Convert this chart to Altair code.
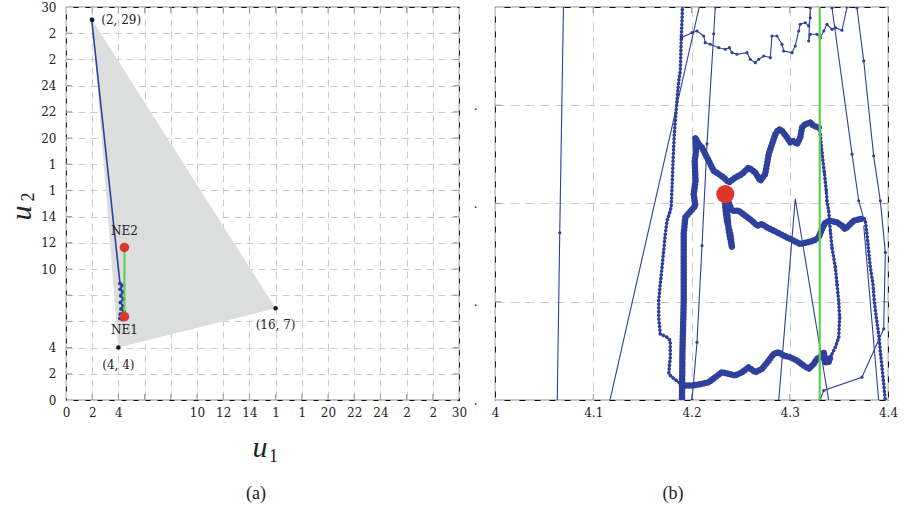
import altair as alt
import pandas as pd

BLUE = "#2e409c"
RED = "#e0362a"
GREEN = "#5ccf4c"
FILL = "#dcdddd"
GRID = "#cbcbcb"
TICK = "#9a9a9a"
INK = "#222222"
FONT = "DejaVu Serif"
MATH = "Liberation Serif"

# ---------------- panel (a) ----------------
tri_u1 = [2, 16, 4]
tri_u2 = [29, 7, 4]
tri_text = ["(2, 29)", "(16, 7)", "(4, 4)"]

traj_a_u1 = [1.96, 4.12, 4.28, 4.14, 4.33, 4.18, 4.38, 4.16, 4.36, 4.20, 4.42, 4.15, 4.32, 4.12, 4.30]
traj_a_u2 = [29.06, 8.90, 8.75, 8.45, 8.25, 7.95, 7.70, 7.45, 7.20, 6.95, 6.75, 6.55, 6.40, 6.22, 6.15]

ne_u1 = [4.46, 4.46]
ne_u2 = [6.36, 11.65]
ne_text = ["NE1", "NE2"]

ticks_a = list(range(0, 31, 2))

# ---------------- panel (b) ----------------
ticks_b_u1 = [4.0, 4.1, 4.2, 4.3, 4.4]
ticks_b_u2 = [6.0, 6.2, 6.4, 6.6, 6.8]

# thin straight segments (no dots)
t2_u1 = [4.1057, 4.2192]
t2_u2 = [5.90, 6.90]
v1_u1 = [4.2847, 4.3056, 4.3479]
v1_u2 = [5.90, 6.4096, 5.90]
rr2_u1 = [4.3753, 4.3905, 4.3923]
rr2_u2 = [6.355, 6.000, 5.958]

# thin segments with dots
t1_u1 = [4.0705, 4.0659, 4.0626]
t1_u2 = [6.90, 6.3405, 5.90]
t3_u1 = [4.2346, 4.2242, 4.2226, 4.2158, 4.2107, 4.2056, 4.2005, 4.1962]
t3_u2 = [6.90, 6.800, 6.7456, 6.5214, 6.3141, 6.1175, 6.000, 5.90]
r1_u1 = [4.3360, 4.3430, 4.3634, 4.3702, 4.3753]
r1_u2 = [6.90, 6.7985, 6.5005, 6.4056, 6.3684]
r2_u1 = [4.3620, 4.3684, 4.3753, 4.3854, 4.3922, 4.3973, 4.3956, 4.3735, 4.3346, 4.3308, 4.3288]
r2_u2 = [6.90, 6.7985, 6.6902, 6.4970, 6.4056, 6.3005, 6.1447, 6.0464, 6.0193, 6.000, 5.9787]

# upper dotted path
up_u1 = [4.1896, 4.2005, 4.2056, 4.2124, 4.2140, 4.2191, 4.2277, 4.2344, 4.2385, 4.2412,
         4.2463, 4.2565, 4.2598, 4.2649, 4.2684, 4.2735, 4.2802, 4.2819, 4.2870, 4.2921,
         4.2938, 4.3023, 4.3056, 4.3091, 4.3107, 4.3158, 4.3193, 4.3209, 4.3209, 4.3193,
         4.3209, 4.3277, 4.3311, 4.3346, 4.3379, 4.3430, 4.3464, 4.3532, 4.3583, 4.3620]
up_u2 = [6.7376, 6.7477, 6.7512, 6.7410, 6.7274, 6.7241, 6.7172, 6.7140, 6.7172, 6.7071,
         6.7038, 6.7071, 6.6936, 6.6867, 6.6936, 6.7003, 6.6969, 6.7410, 6.7410, 6.7241,
         6.7105, 6.7071, 6.7207, 6.7512, 6.7648, 6.7680, 6.7613, 6.7782, 6.7985, 6.7308,
         6.7445, 6.7445, 6.7376, 6.7512, 6.7648, 6.7546, 6.7579, 6.7526, 6.8000, 6.90]

# dense dotted paths
ld_u1 = [4.1915, 4.1908, 4.1903, 4.1896, 4.1886, 4.1870, 4.1852, 4.1835, 4.1825, 4.1812,
         4.1802, 4.1794, 4.1784, 4.1751, 4.1733, 4.1717, 4.1700, 4.1682, 4.1666, 4.1666,
         4.1682, 4.1717, 4.1751, 4.1784, 4.1784, 4.1768, 4.1802, 4.1870, 4.1903, 4.2005]
ld_u2 = [6.90, 6.800, 6.7715, 6.7376, 6.6698, 6.6495, 6.6089, 6.5682, 6.5412, 6.4869,
         6.4326, 6.3954, 6.3852, 6.3649, 6.3379, 6.3039, 6.2700, 6.2362, 6.2023, 6.1683,
         6.1346, 6.1311, 6.1277, 6.1210, 6.0870, 6.0533, 6.0464, 6.0362, 6.0295, 6.0295]
rd_u1 = [4.3413, 4.3464, 4.3498, 4.3508, 4.3498, 4.3481, 4.3464, 4.3430, 4.3413, 4.3396,
         4.3379, 4.3372, 4.3352, 4.3328, 4.3311, 4.3295]
rd_u2 = [6.0870, 6.1073, 6.1277, 6.1683, 6.2023, 6.2362, 6.2700, 6.3106, 6.3446, 6.3852,
         6.4056, 6.4259, 6.4631, 6.5038, 6.5412, 6.5546]
rr_u1 = [4.3753, 4.3769, 4.3786, 4.3803, 4.3820, 4.3847, 4.3860, 4.3881, 4.3905, 4.3921,
         4.3939, 4.3956, 4.3972, 4.3990]
rr_u2 = [6.3684, 6.3649, 6.3379, 6.3039, 6.2700, 6.2362, 6.2023, 6.1683, 6.1346, 6.1006,
         6.0667, 6.0329, 5.9990, 5.9580]

# thick noisy paths
bw_u1 = [4.1903, 4.2005, 4.2107, 4.2175, 4.2242, 4.2310, 4.2379, 4.2446, 4.2514, 4.2582,
         4.2649, 4.2718, 4.2786, 4.2837, 4.2888, 4.2938, 4.3006, 4.3074, 4.3142, 4.3193,
         4.3244, 4.3277, 4.3311, 4.3346, 4.3362, 4.3396, 4.3413]
bw_u2 = [6.0295, 6.0295, 6.0329, 6.0362, 6.0464, 6.0565, 6.0533, 6.0498, 6.0565, 6.0667,
         6.0565, 6.0634, 6.0803, 6.0939, 6.0972, 6.0905, 6.0870, 6.0803, 6.0701, 6.0634,
         6.0736, 6.0838, 6.0870, 6.0972, 6.0768, 6.0768, 6.0870]
uw_u1 = [4.3295, 4.3244, 4.3209, 4.3158, 4.3125, 4.3107, 4.3074, 4.3040, 4.3006, 4.2972,
         4.2921, 4.2888, 4.2854, 4.2819, 4.2786, 4.2751, 4.2700, 4.2649, 4.2582, 4.2514,
         4.2446, 4.2379, 4.2328, 4.2277, 4.2226, 4.2175, 4.2140, 4.2107, 4.2073, 4.2039,
         4.2046, 4.2033, 4.2041, 4.2022, 4.2039, 4.1937, 4.1921, 4.1921, 4.1908, 4.1903, 4.1900]
uw_u2 = [6.5546, 6.5580, 6.5648, 6.5615, 6.5546, 6.5343, 6.5208, 6.5275, 6.5241, 6.5343,
         6.5479, 6.5513, 6.5412, 6.5208, 6.5005, 6.4599, 6.4462, 6.4631, 6.4733, 6.4599,
         6.4529, 6.4428, 6.4529, 6.4599, 6.4666, 6.4869, 6.5005, 6.5139, 6.5208, 6.5343,
         6.5072, 6.4869, 6.4462, 6.4192, 6.3954, 6.3716, 6.3385, 6.2023, 6.1006, 6.0000, 5.9900]
stub_u1 = [4.2344, 4.2344, 4.2361, 4.2395, 4.2412, 4.2379, 4.2361]
stub_u2 = [6.4056, 6.3919, 6.3649, 6.3379, 6.3106, 6.3446, 6.3852]
mw_u1 = [4.2344, 4.2412, 4.2480, 4.2548, 4.2616, 4.2667, 4.2718, 4.2768, 4.2837, 4.2904,
         4.2972, 4.3040, 4.3107, 4.3176, 4.3244, 4.3295, 4.3328, 4.3362, 4.3413, 4.3481,
         4.3532, 4.3565, 4.3600, 4.3651, 4.3718, 4.3753]
mw_u2 = [6.4192, 6.3852, 6.3852, 6.3751, 6.3649, 6.3547, 6.3582, 6.3513, 6.3446, 6.3379,
         6.3310, 6.3243, 6.3175, 6.3208, 6.3243, 6.3310, 6.3480, 6.3615, 6.3649, 6.3615,
         6.3548, 6.3480, 6.3548, 6.3649, 6.3684, 6.3684]

ne_b_u1 = [4.2344]
ne_b_u2 = [6.4192]
green_b_u1 = [4.3305, 4.3305]
green_b_u2 = [5.90, 6.90]


def path_df(paths):
    rows = []
    for name, (xs, ys) in paths.items():
        for i, (x, y) in enumerate(zip(xs, ys)):
            rows.append({"u1": x, "u2": y, "path": name, "idx": i})
    return pd.DataFrame(rows)


def txt(s, x, y, size, font=FONT, italic=False, angle=0, align="center", baseline="middle"):
    kw = dict(font=font, fontSize=size, align=align, baseline=baseline, color=INK)
    if italic:
        kw["fontStyle"] = "italic"
    if angle:
        kw["angle"] = angle
    return alt.Chart(pd.DataFrame({"t": [s]})).mark_text(**kw).encode(
        x=alt.value(x), y=alt.value(y), text="t:N")


W = H = 393
TL = 6  # inner tick length


def inner_ticks(xvals, yvals, xenc, yenc):
    xt = pd.DataFrame({"u1": xvals})
    yt = pd.DataFrame({"u2": yvals})
    m = dict(color=TICK, strokeWidth=1)
    return [
        alt.Chart(xt).mark_rule(**m).encode(x=xenc, y=alt.value(H), y2=alt.value(H - TL)),
        alt.Chart(xt).mark_rule(**m).encode(x=xenc, y=alt.value(0), y2=alt.value(TL)),
        alt.Chart(yt).mark_rule(**m).encode(y=yenc, x=alt.value(0), x2=alt.value(TL)),
        alt.Chart(yt).mark_rule(**m).encode(y=yenc, x=alt.value(W), x2=alt.value(W - TL)),
    ]


# ---------- panel (a) chart ----------
lab_a = ("datum.value == 6 || datum.value == 8 ? '' : "
         "(datum.value == 16 || datum.value == 18 ? '1' : "
         "(datum.value == 26 || datum.value == 28 ? '2' : datum.label))")
sa = alt.Scale(domain=[0, 30], nice=False, zero=False)
xa = alt.X("u1:Q", scale=sa,
           axis=alt.Axis(values=ticks_a, labelExpr=lab_a, grid=True, gridDash=[7, 5],
                         gridColor=GRID, domain=False, ticks=False, labelFlush=False,
                         labelOverlap=False, labelPadding=7, title=None))
ya = alt.Y("u2:Q", scale=sa,
           axis=alt.Axis(values=ticks_a, labelExpr=lab_a, grid=True, gridDash=[7, 5],
                         gridColor=GRID, domain=False, ticks=False, labelFlush=False,
                         labelOverlap=False, labelPadding=10, title=None))

tri_df = pd.DataFrame({"u1": tri_u1, "u2": tri_u2, "idx": [0, 1, 2], "t": tri_text})
poly = alt.Chart(tri_df).mark_line(fill=FILL, strokeOpacity=0, strokeWidth=0).encode(
    x=xa, y=ya, order="idx:Q")
traj_a = alt.Chart(pd.DataFrame({"u1": traj_a_u1, "u2": traj_a_u2,
                                 "idx": list(range(len(traj_a_u1)))})).mark_line(
    color=BLUE, strokeWidth=1.6,
    point=alt.OverlayMarkDef(filled=True, color=BLUE, size=16)).encode(
    x=xa, y=ya, order="idx:Q")
ne_df = pd.DataFrame({"u1": ne_u1, "u2": ne_u2, "t": ne_text, "idx": [0, 1]})
green_a = alt.Chart(ne_df).mark_line(color=GREEN, strokeWidth=2).encode(x=xa, y=ya, order="idx:Q")
red_a = alt.Chart(ne_df).mark_circle(color=RED, size=90, opacity=1).encode(x=xa, y=ya)
blk = alt.Chart(tri_df).mark_circle(color="#161a2a", size=20, opacity=1).encode(x=xa, y=ya)
lab_29 = alt.Chart(tri_df.iloc[[0]]).mark_text(font=FONT, fontSize=12, align="left", dx=9, color=INK).encode(
    x=xa, y=ya, text="t:N")
lab_low = alt.Chart(tri_df.iloc[[1, 2]]).mark_text(font=FONT, fontSize=12, align="center", dy=17, color=INK).encode(
    x=xa, y=ya, text="t:N")
lab_ne1 = alt.Chart(ne_df.iloc[[0]]).mark_text(font=FONT, fontSize=12, dy=13, color=INK).encode(
    x=xa, y=ya, text="t:N")
lab_ne2 = alt.Chart(ne_df.iloc[[1]]).mark_text(font=FONT, fontSize=12, dy=-16, color=INK).encode(
    x=xa, y=ya, text="t:N")

panel_a = alt.layer(
    poly, *inner_ticks(ticks_a[1:-1], ticks_a[1:-1], xa, ya),
    traj_a, green_a, red_a, blk, lab_29, lab_low, lab_ne1, lab_ne2,
    txt("u", 194, 450, 30, font=MATH, italic=True, baseline="alphabetic"),
    txt("1", 203, 455, 18, font=MATH, align="left", baseline="alphabetic"),
    txt("u", -44, 206, 30, font=MATH, italic=True, angle=270),
    txt("2", -37, 190, 18, font=MATH, angle=270),
    txt("(a)", 190, 487, 18, font=MATH),
).properties(width=W, height=H)

# ---------- panel (b) chart ----------
sbx = alt.Scale(domain=[4.0, 4.4], nice=False, zero=False)
sby = alt.Scale(domain=[6.0, 6.8], nice=False, zero=False)
xb = alt.X("u1:Q", scale=sbx,
           axis=alt.Axis(values=ticks_b_u1,
                         labelExpr="datum.value == 4 ? '4' : format(datum.value, '.1f')",
                         grid=True, gridDash=[9, 6], gridColor=GRID, domain=False, ticks=False,
                         labelFlush=False, labelOverlap=False, labelPadding=7, title=None))
yb = alt.Y("u2:Q", scale=sby,
           axis=alt.Axis(values=ticks_b_u2, labelExpr="datum.value < 6.7 ? '.' : ''",
                         grid=True, gridDash=[9, 6], gridColor=GRID, domain=False, ticks=False,
                         labelFlush=False, labelOverlap=False, labelPadding=18, title=None))

thin_df = path_df({"t2": (t2_u1, t2_u2), "v1": (v1_u1, v1_u2), "rr2": (rr2_u1, rr2_u2)})
dots_df = path_df({"t1": (t1_u1, t1_u2), "t3": (t3_u1, t3_u2), "r1": (r1_u1, r1_u2),
                   "r2": (r2_u1, r2_u2), "up": (up_u1, up_u2), "rd": (rd_u1, rd_u2)})
dense_df = path_df({"ld": (ld_u1, ld_u2), "rr": (rr_u1, rr_u2), "rd": (rd_u1, rd_u2)})
thick_df = path_df({"bw": (bw_u1, bw_u2), "uw": (uw_u1, uw_u2), "stub": (stub_u1, stub_u2),
                    "mw": (mw_u1, mw_u2)})

enc = dict(x=xb, y=yb, detail="path:N", order="idx:Q")
thin_l = alt.Chart(thin_df).mark_line(color=BLUE, strokeWidth=1.1, clip=True).encode(**enc)
dots_l = alt.Chart(dots_df).mark_line(
    color=BLUE, strokeWidth=1.1, clip=True,
    point=alt.OverlayMarkDef(filled=True, color=BLUE, size=10, clip=True)).encode(**enc)
dense_base = alt.Chart(dense_df).mark_line(color=BLUE, strokeWidth=1.1, clip=True).encode(**enc)
dense_beads = alt.Chart(dense_df).mark_line(color=BLUE, strokeWidth=3.6, strokeDash=[0.1, 3.6],
                                            strokeCap="round", clip=True).encode(**enc)
thick_l = alt.Chart(thick_df).mark_line(color=BLUE, strokeWidth=4.5, strokeJoin="round",
                                        strokeCap="round", clip=True).encode(**enc)
thick_fuzz = alt.Chart(thick_df).mark_line(color=BLUE, strokeWidth=6.5, strokeDash=[0.1, 3.2],
                                           strokeCap="round", clip=True).encode(**enc)
green_b = alt.Chart(pd.DataFrame({"u1": green_b_u1, "u2": green_b_u2})).mark_line(
    color=GREEN, strokeWidth=2.2, clip=True).encode(x=xb, y=yb)
red_b = alt.Chart(pd.DataFrame({"u1": ne_b_u1, "u2": ne_b_u2})).mark_circle(
    color=RED, size=330, opacity=1).encode(x=xb, y=yb)

panel_b = alt.layer(
    *inner_ticks(ticks_b_u1[1:-1], ticks_b_u2[1:-1], xb, yb),
    thin_l, dots_l, dense_base, dense_beads, thick_l, thick_fuzz, green_b, red_b,
    txt("(b)", 178, 487, 18, font=MATH),
).properties(width=W, height=H)

chart = alt.hconcat(panel_a, panel_b, spacing=4).properties(
    padding={"left": 6, "top": 0, "right": 0, "bottom": 0}
).configure_view(stroke="#111111", strokeWidth=1.1).configure_axis(
    labelFont=FONT, labelFontSize=12, labelColor=INK)

chart.save("out.html", embed_options={"renderer": "svg", "actions": False})
